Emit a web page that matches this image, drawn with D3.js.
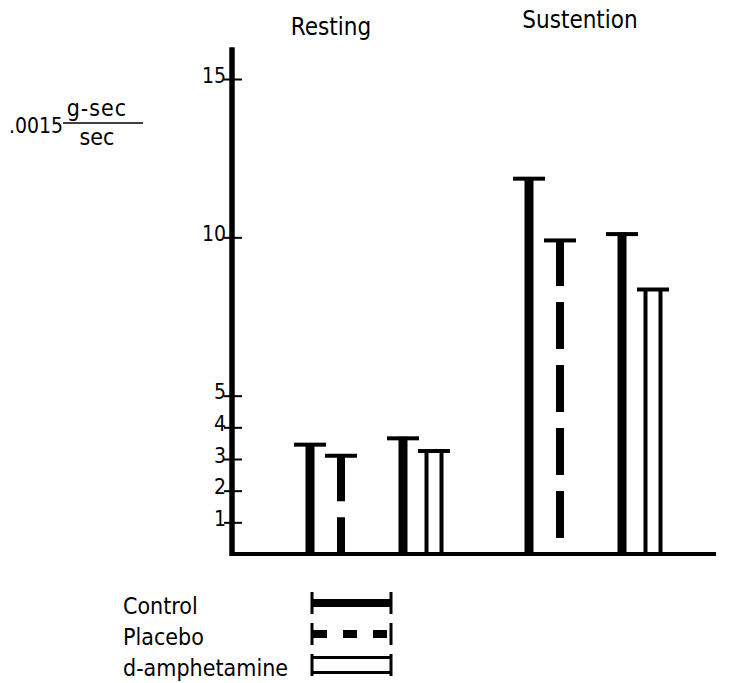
<!DOCTYPE html>
<html>
<head>
<meta charset="utf-8">
<script src="https://cdn.jsdelivr.net/npm/d3@7"></script>
<style>
body{margin:0;background:#fff;}
text{font-family:"DejaVu Sans Condensed","DejaVu Sans",sans-serif;font-stretch:condensed;fill:#000;}
</style>
</head>
<body>
<div id="chart"></div>
<script>
var conditions = ["Resting","Sustention"];
var series = ["Control","Placebo","Control","d-amphetamine"];
var resting = [3.5,3.15,3.7,3.3];
var sustention = [11.9,9.95,10.15,8.4];
var yTicks = [1,2,3,4,5,10,15];
var legendLabels = ["Control","Placebo","d-amphetamine"];

var width = 729, height = 683;
var svg = d3.select("#chart")
  .append("svg")
  .attr("width",width)
  .attr("height",height);

var axisX = 232;
var y = d3.scaleLinear()
  .domain([0,15])
  .range([554,79]);
var group = d3.scalePoint()
  .domain(conditions)
  .range([310,529]);
// four bars per condition, with a gap between the two pairs
var slot = d3.scalePoint()
  .domain(["c1","p","gap","c2","a"])
  .range([0,124]);
var slotKeys = ["c1","p","c2","a"];

var bars = [];
conditions.forEach(function(c,ci){
  var vals = ci == 0 ? resting : sustention;
  vals.forEach(function(v,i){
    bars.push({cond:c, series:series[i], value:v, x:group(c) + slot(slotKeys[i])});
  });
});

// stems
bars.forEach(function(d){
  if(d.series == "d-amphetamine"){
    [-7.5,7.5].forEach(function(dx){
      svg.append("line")
        .attr("x1",d.x + dx).attr("x2",d.x + dx)
        .attr("y1",y(d.value)).attr("y2",y(0))
        .attr("stroke","#000").attr("stroke-width",4);
    });
  } else {
    svg.append("line")
      .attr("x1",d.x).attr("x2",d.x)
      .attr("y1",y(d.value)).attr("y2",y(0))
      .attr("stroke","#000")
      .attr("stroke-width",d.series == "Placebo" ? 8 : 9)
      .attr("stroke-dasharray",d.series == "Placebo" ? "47,16" : null);
  }
});

// caps
svg.selectAll(".cap")
  .data(bars)
  .enter().append("line")
  .attr("class","cap")
  .attr("x1",d => d.x - 16)
  .attr("x2",d => d.x + 16)
  .attr("y1",d => y(d.value) + 1.5)
  .attr("y2",d => y(d.value) + 1.5)
  .attr("stroke","#000")
  .attr("stroke-width",4);

// axes
svg.append("line")
  .attr("x1",axisX).attr("x2",axisX)
  .attr("y1",y(16)).attr("y2",y(0) + 2)
  .attr("stroke","#000").attr("stroke-width",5.5);
svg.append("line")
  .attr("x1",axisX - 2).attr("x2",716)
  .attr("y1",y(0)).attr("y2",y(0))
  .attr("stroke","#000").attr("stroke-width",4);

var yAxis = svg.append("g")
  .attr("transform",`translate(${axisX},0)`)
  .call(d3.axisLeft(y).tickValues(yTicks).tickFormat(d3.format("d")).tickSizeOuter(0));
yAxis.select(".domain").remove();
yAxis.selectAll(".tick line")
  .attr("x1",-8).attr("x2",10)
  .attr("stroke","#000").attr("stroke-width",2);
yAxis.selectAll(".tick text")
  .attr("x",-6)
  .attr("dy","0.15em")
  .style("font-size","21px");

// condition titles
var titleDx = {Resting:21, Sustention:51};
var titleY = {Resting:35, Sustention:28};
svg.selectAll(".title")
  .data(conditions)
  .enter().append("text")
  .attr("class","title")
  .attr("x",d => group(d) + titleDx[d])
  .attr("y",d => titleY[d])
  .attr("text-anchor","middle")
  .style("font-size","24px")
  .text(d => d);

// unit label
svg.append("text")
  .attr("x",63).attr("y",133)
  .attr("text-anchor","end")
  .style("font-size","21px")
  .text(".0015");
svg.append("text")
  .attr("x",97).attr("y",116)
  .attr("text-anchor","middle")
  .style("font-size","23px")
  .style("letter-spacing","1px")
  .text("g-sec");
svg.append("line")
  .attr("x1",63).attr("x2",143)
  .attr("y1",123).attr("y2",123)
  .attr("stroke","#000").attr("stroke-width",1.5);
svg.append("text")
  .attr("x",97).attr("y",145)
  .attr("text-anchor","middle")
  .style("font-size","23px")
  .text("sec");

// legend
var ly = d3.scalePoint()
  .domain(legendLabels)
  .range([603,665]);
var lx0 = 312, lx1 = 391;
var legend = svg.selectAll(".legend")
  .data(legendLabels)
  .enter().append("g")
  .attr("class","legend")
  .attr("transform",d => `translate(0,${ly(d)})`);

legend.append("text")
  .attr("x",123)
  .attr("y",11)
  .style("font-size","23px")
  .text(d => d);

legend.each(function(d){
  var g = d3.select(this);
  if(d == "d-amphetamine"){
    [-7.5,7.5].forEach(function(dy){
      g.append("line")
        .attr("x1",lx0).attr("x2",lx1)
        .attr("y1",dy).attr("y2",dy)
        .attr("stroke","#000").attr("stroke-width",3);
    });
  } else {
    g.append("line")
      .attr("x1",d == "Placebo" ? lx0 + 1 : lx0).attr("x2",lx1)
      .attr("y1",0).attr("y2",0)
      .attr("stroke","#000").attr("stroke-width",8)
      .attr("stroke-dasharray",d == "Placebo" ? "14,16" : null);
  }
  [lx0,lx1].forEach(function(xx){
    g.append("line")
      .attr("x1",xx).attr("x2",xx)
      .attr("y1",-11).attr("y2",11)
      .attr("stroke","#000").attr("stroke-width",3);
  });
});
</script>
</body>
</html>
